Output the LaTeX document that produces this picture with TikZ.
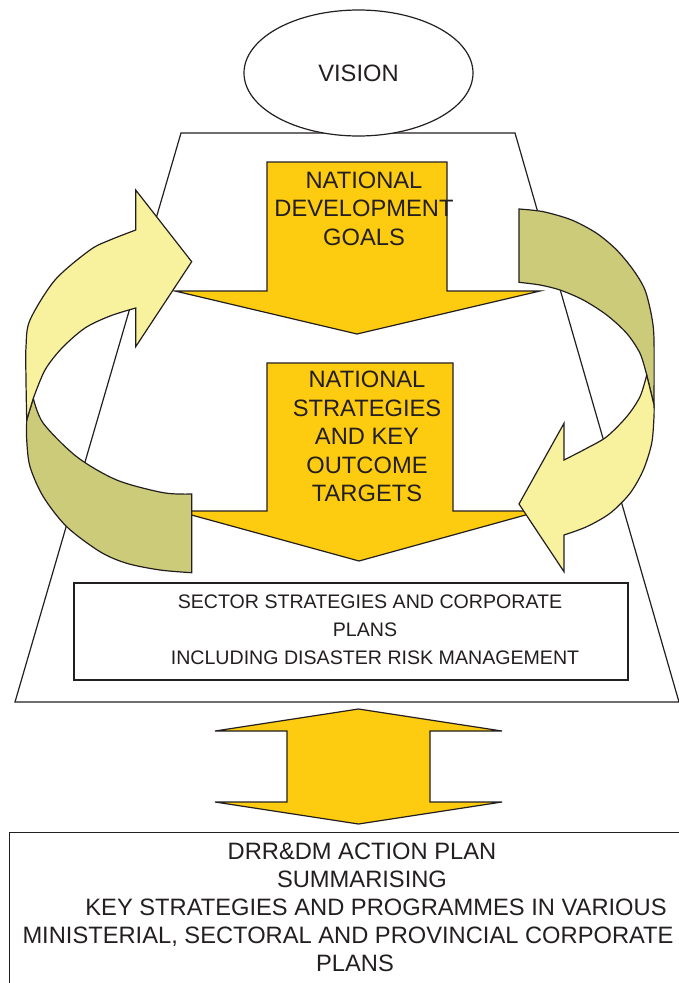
\documentclass[tikz,border=0pt]{standalone}
\usepackage{fontspec}
\setmainfont{Liberation Sans}
\usetikzlibrary{shapes.geometric}
\definecolor{inkline}{HTML}{231F20}
\definecolor{goldfill}{HTML}{FDCB10}
\definecolor{paleyellow}{HTML}{F8F29E}
\definecolor{olivefill}{HTML}{CCCB7A}
\tikzset{
	outline/.style={draw=inkline, line width=1.2pt, line join=miter},
	goldarrow/.style={outline, fill=goldfill},
	frontband/.style={outline, fill=paleyellow},
	backband/.style={outline, fill=olivefill},
	bigtext/.style={font=\fontsize{23.7}{28.5}\selectfont, text=inkline, align=center, inner sep=0pt},
	smalltext/.style={font=\fontsize{19.6}{28}\selectfont, text=inkline, align=center, inner sep=0pt}
}

\begin{document}
\begin{tikzpicture}[x=1pt, y=-1pt]
			%%%%% START %%%%%
			\clip (0, 0) rectangle (679, 983);
			
			\draw[outline] (181, 133) -- (515, 133) -- (679, 702) -- (15, 702) -- cycle;
			
			\node[outline, fill=white, ellipse, minimum width=229, minimum height=126, bigtext] (vision) at (358.5, 73) {VISION};
			
			\draw[goldarrow] (267, 162) -- (447, 162) -- (447, 291) -- (540, 291) -- (357, 334) -- (175, 291) -- (267, 291) -- cycle;
			\node[bigtext] (goals) at (364, 208.5) {NATIONAL\\DEVELOPMENT\\GOALS};
			
			\draw[goldarrow] (267, 363) -- (453, 363) -- (453, 511) -- (540, 511) -- (359, 561) -- (177, 511) -- (267, 511) -- cycle;
			\node[bigtext] (targets) at (367, 436.5) {NATIONAL\\STRATEGIES\\AND KEY\\OUTCOME\\TARGETS};
			
			\draw[outline] (74, 583) rectangle (628, 680);
			\node[smalltext] (sector) at (370, 630) {SECTOR STRATEGIES AND CORPORATE\\PLANS\hspace*{10pt}\null\\\hspace*{10pt}INCLUDING DISASTER RISK MANAGEMENT};
			
			% left loop
			\draw[backband] (191.7, 494) -- (191.7, 572.7) -- plot[smooth] coordinates {(191.7, 572.7) (160, 570) (126.7, 563.3) (100, 551.7) (66.7, 526.7) (43.3, 496.7) (30, 466.7) (26.7, 440) (26.7, 420)} -- (33.3, 398.3) -- plot[smooth] coordinates {(33.3, 398.3) (43.3, 423.3) (76.7, 456.7) (116.7, 480) (163.3, 492.7) (191.7, 494)} -- cycle;
			\draw[frontband] (135.7, 230) -- (135.7, 190) -- (191.7, 261.7) -- (135.7, 346.7) -- (135.7, 308) -- plot[smooth] coordinates {(135.7, 308) (110, 316) (85, 328) (62, 348) (45, 370) (33.3, 398.3)} -- (26.7, 420) -- plot[smooth] coordinates {(26.7, 420) (26, 380) (26, 346.7) (30, 320) (55, 280) (90, 250) (110, 240) (135.7, 230)} -- cycle;
			
			% right loop
			\draw[backband] (519, 209) -- (519, 282.3) -- plot[smooth] coordinates {(519, 282.3) (540, 285) (560, 290) (583.3, 300) (606.7, 315) (626.7, 333.3) (640, 353.3) (646.7, 375)} -- (654, 405) -- plot[smooth] coordinates {(654, 405) (654, 340) (651.7, 316.7) (645, 290) (633.3, 270) (616.7, 250) (596.7, 233.3) (571.7, 220) (543.3, 211.7) (519, 209)} -- cycle;
			\draw[frontband] (564, 460) -- (564, 423.3) -- (519, 504) -- (564, 571.7) -- (564, 535) -- plot[smooth] coordinates {(564, 535) (586.7, 526.7) (610, 513.3) (630, 493.3) (643.3, 470) (651.7, 443.3) (654, 416.7) (654, 405)} -- (646.7, 375) -- plot[smooth] coordinates {(646.7, 375) (640, 396.7) (626.7, 416.7) (606.7, 436.7) (586.7, 448.3) (564, 460)} -- cycle;
			
			\draw[goldarrow] (358.5, 709) -- (502, 731) -- (430, 731) -- (430, 802) -- (502, 802) -- (358.5, 824) -- (215, 802) -- (287, 802) -- (287, 731) -- (215, 731) -- cycle;
			
			\draw[outline] (9.3, 832.7) rectangle (720, 1000);
			\node[bigtext, font=\fontsize{23.7}{28}\selectfont] (actionplan) at (362, 907) {DRR\&DM ACTION PLAN\\SUMMARISING\\\hspace*{28pt}KEY STRATEGIES AND PROGRAMMES IN VARIOUS\\MINISTERIAL, SECTORAL AND PROVINCIAL CORPORATE\hspace*{28pt}\null\\PLANS\hspace*{14pt}\null};
			
			%%%%% END %%%%%
\end{tikzpicture}
\end{document}
